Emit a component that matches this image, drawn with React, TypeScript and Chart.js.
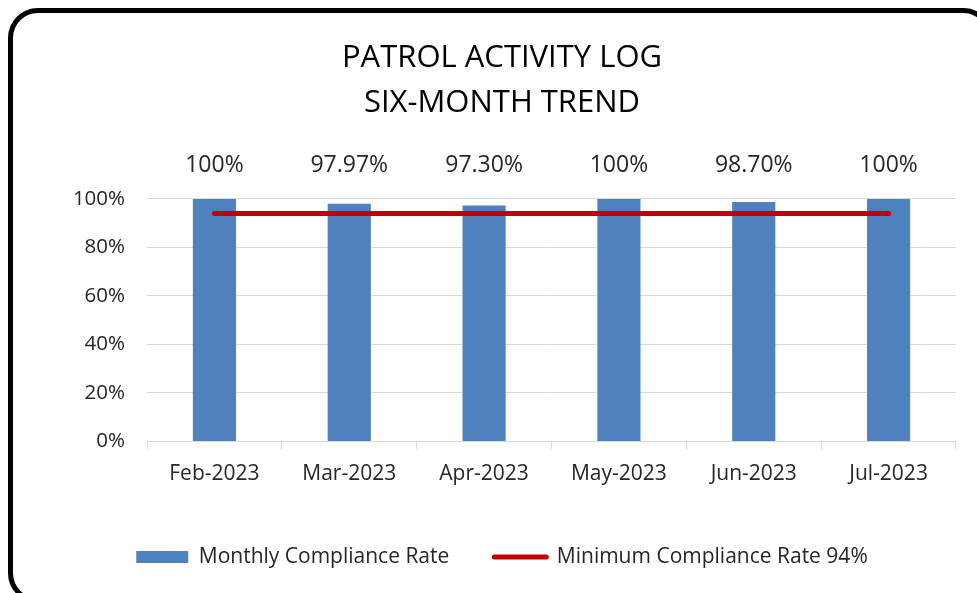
import React, { useEffect, useRef } from 'react';
import { Chart, registerables } from 'chart.js';

Chart.register(...registerables);

const months = ['Feb-2023', 'Mar-2023', 'Apr-2023', 'May-2023', 'Jun-2023', 'Jul-2023'];
const complianceRates = [100, 97.97, 97.3, 100, 98.7, 100];
const complianceLabels = ['100%', '97.97%', '97.30%', '100%', '98.70%', '100%'];
const minimumRate = [94, 94, 94, 94, 94, 94];
const yTickValues = [0, 20, 40, 60, 80, 100];
const titleLines = ['PATROL ACTIVITY LOG', 'SIX-MONTH TREND'];
const seriesNames = ['Monthly Compliance Rate', 'Minimum Compliance Rate 94%'];

const FONT = "'Open Sans', 'Noto Sans', sans-serif";
const BAR_COLOR = '#4F81BD';
const LINE_COLOR = '#C00000';
const GRID_COLOR = '#D9D9D9';
const TEXT_COLOR = '#262626';

const dataLabelPlugin = {
  id: 'barValueLabels',
  afterDatasetsDraw(chart: any) {
    const meta = chart.getDatasetMeta(0);
    const ctx = chart.ctx;
    ctx.save();
    ctx.font = `23px ${FONT}`;
    ctx.fillStyle = TEXT_COLOR;
    ctx.textAlign = 'center';
    ctx.textBaseline = 'middle';
    meta.data.forEach((bar: any, i: number) => {
      ctx.fillText(complianceLabels[i], bar.x, chart.chartArea.top - 33);
    });
    ctx.restore();
  },
};

export default function App() {
  const canvasRef = useRef<HTMLCanvasElement | null>(null);

  useEffect(() => {
    if (!canvasRef.current) return;
    const chart = new Chart(canvasRef.current, {
      type: 'bar',
      data: {
        labels: months,
        datasets: [
          {
            type: 'bar',
            label: seriesNames[0],
            data: complianceRates,
            backgroundColor: BAR_COLOR,
            barPercentage: 0.32,
            categoryPercentage: 1,
            order: 1,
          },
          {
            type: 'line',
            label: seriesNames[1],
            data: minimumRate,
            borderColor: LINE_COLOR,
            backgroundColor: LINE_COLOR,
            borderWidth: 5,
            borderCapStyle: 'round',
            pointRadius: 0,
            pointHoverRadius: 0,
            fill: false,
            order: 0,
          },
        ],
      },
      options: {
        responsive: false,
        animation: false,
        events: [],
        layout: { padding: { top: 30, left: 48, right: 21, bottom: 15.5 } },
        scales: {
          x: {
            grid: {
              offset: true,
              drawOnChartArea: false,
              drawTicks: true,
              tickLength: 8,
              color: GRID_COLOR,
            },
            border: { display: true, color: GRID_COLOR, width: 1 },
            ticks: {
              color: TEXT_COLOR,
              font: { family: FONT, size: 21 },
              padding: 12,
              maxRotation: 0,
            },
            afterFit(scale: any) {
              scale.height = 60;
            },
          },
          y: {
            min: 0,
            max: 100,
            afterBuildTicks(scale: any) {
              scale.ticks = yTickValues.map((v) => ({ value: v }));
            },
            grid: { color: GRID_COLOR, drawTicks: false, lineWidth: 1 },
            border: { display: false },
            ticks: {
              color: TEXT_COLOR,
              font: { family: FONT, size: 20.5 },
              padding: 22,
              callback: (v: any) => `${v}%`,
            },
            afterFit(scale: any) {
              scale.width = 99;
            },
          },
        },
        plugins: {
          tooltip: { enabled: false },
          title: {
            display: true,
            text: titleLines,
            color: '#000000',
            font: { family: FONT, size: 31, weight: 'normal', lineHeight: 1.45 },
            padding: { top: 6, bottom: 73 },
          },
          legend: {
            display: true,
            position: 'bottom',
            labels: {
              usePointStyle: true,
              pointStyleWidth: 52,
              boxHeight: 12,
              padding: 45,
              color: TEXT_COLOR,
              font: { family: FONT, size: 21 },
              generateLabels: () => [
                {
                  text: seriesNames[0],
                  fillStyle: BAR_COLOR,
                  strokeStyle: BAR_COLOR,
                  lineWidth: 0,
                  pointStyle: 'rect',
                  hidden: false,
                  datasetIndex: 0,
                  fontColor: TEXT_COLOR,
                },
                {
                  text: seriesNames[1],
                  fillStyle: LINE_COLOR,
                  strokeStyle: LINE_COLOR,
                  lineWidth: 5,
                  lineCap: 'round',
                  pointStyle: 'line',
                  hidden: false,
                  datasetIndex: 1,
                  fontColor: TEXT_COLOR,
                },
              ],
            },
          },
        },
      },
      plugins: [dataLabelPlugin],
    } as any);
    return () => chart.destroy();
  }, []);

  return (
    <div
      style={{
        position: 'fixed',
        inset: 0,
        overflow: 'hidden',
        background: '#ffffff',
      }}
    >
      <div
        style={{
          position: 'absolute',
          left: 8,
          top: 8,
          width: 985,
          height: 595,
          boxSizing: 'border-box',
          border: '5px solid #000000',
          borderRadius: 30,
        }}
      />
      <canvas
        ref={canvasRef}
        width={977}
        height={593}
        style={{ position: 'absolute', left: 0, top: 0, width: 977, height: 593 }}
      />
    </div>
  );
}
